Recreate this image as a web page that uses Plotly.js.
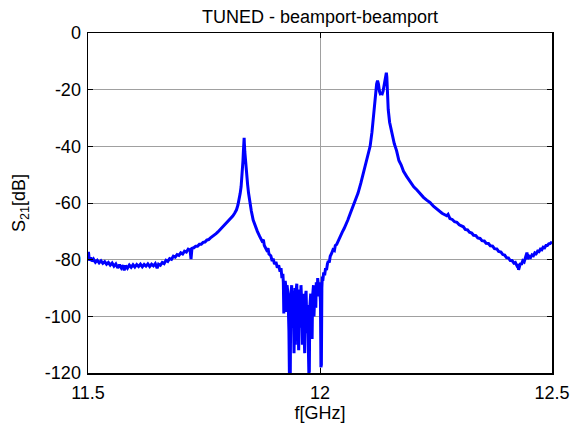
<!DOCTYPE html>
<html>
<head>
<meta charset="utf-8">
<script src="https://cdn.plot.ly/plotly-3.0.1.min.js"></script>
<style>html,body{margin:0;padding:0;background:#fff;}#chart{width:576px;height:430px;}</style>
</head>
<body>
<div id="chart"></div>
<script>
// Frequency [GHz]
const freq = [
11.500,11.501,11.503,11.506,11.509,11.512,11.516,11.520,11.524,11.528,11.532,11.536,11.540,11.544,11.548,11.552,11.556,11.560,11.564,11.568,
11.572,11.576,11.578,11.581,11.585,11.589,11.593,11.597,11.601,11.605,11.609,11.613,11.617,11.621,11.625,11.629,11.633,11.637,11.641,11.645,
11.649,11.652,11.656,11.660,11.664,11.668,11.672,11.676,11.680,11.684,11.688,11.692,11.696,11.700,11.704,11.708,11.712,11.716,11.720,11.722,
11.724,11.728,11.732,11.736,11.740,11.744,11.748,11.752,11.756,11.760,11.764,11.768,11.772,11.776,11.780,11.784,11.788,11.792,11.796,11.800,
11.804,11.808,11.812,11.816,11.820,11.823,11.826,11.828,11.830,11.832,11.833,11.834,11.835,11.836,11.8365,11.837,11.838,11.839,11.840,11.842,
11.844,11.846,11.849,11.852,11.856,11.860,11.865,11.870,11.875,11.878,11.880,11.885,11.888,11.890,11.894,11.897,11.899,11.902,11.905,11.908,
11.911,11.914,11.916,11.918,11.920,11.921,11.922,11.923,11.925,11.927,11.928,11.929,11.931,11.933,11.934,11.935,11.936,11.937,11.939,11.940,
11.941,11.942,11.944,11.945,11.946,11.947,11.948,11.950,11.951,11.952,11.954,11.955,11.956,11.958,11.959,11.961,11.962,11.963,11.965,11.967,
11.968,11.970,11.972,11.973,11.975,11.976,11.977,11.978,11.980,11.981,11.983,11.984,11.986,11.987,11.989,11.991,11.992,11.994,11.995,11.997,
11.999,12.001,12.002,12.003,12.004,12.005,12.006,12.008,12.010,12.012,12.014,12.016,12.018,12.020,12.022,12.025,12.028,12.031,12.033,12.036,
12.040,12.044,12.048,12.052,12.056,12.060,12.065,12.070,12.076,12.082,12.088,12.093,12.098,12.103,12.108,12.112,12.115,12.118,12.120,12.122,
12.124,12.126,12.128,12.130,12.132,12.134,12.136,12.138,12.140,12.142,12.143,12.144,12.145,12.147,12.150,12.153,12.156,12.160,12.165,12.170,
12.175,12.180,12.187,12.195,12.202,12.209,12.216,12.223,12.230,12.237,12.245,12.255,12.263,12.273,12.276,12.280,12.285,12.290,12.295,12.300,
12.305,12.309,12.313,12.318,12.322,12.327,12.331,12.336,12.340,12.345,12.349,12.354,12.358,12.363,12.367,12.372,12.376,12.381,12.385,12.390,
12.394,12.398,12.402,12.406,12.410,12.414,12.418,12.421,12.424,12.426,12.428,12.430,12.432,12.434,12.437,12.440,12.443,12.446,12.448,12.451,
12.454,12.457,12.460,12.463,12.466,12.469,12.472,12.475,12.478,12.481,12.484,12.487,12.490,12.493,12.496,12.500
];
// S21 [dB]
const s21 = [
-79.0,-77.3,-80.3,-79.2,-80.6,-79.8,-80.9,-80.2,-81.1,-80.4,-81.3,-80.7,-81.6,-81.0,-81.9,-81.2,-82.3,-81.5,-82.9,-81.8,
-83.0,-82.0,-83.8,-82.1,-83.0,-81.9,-82.7,-81.8,-82.6,-81.7,-82.4,-81.6,-82.5,-81.7,-82.3,-81.5,-82.4,-81.6,-82.2,-81.4,
-83.0,-81.6,-82.0,-81.0,-81.4,-80.2,-80.6,-79.6,-79.9,-78.8,-79.1,-78.2,-78.5,-77.6,-78.0,-77.0,-77.3,-76.3,-76.6,-79.8,
-76.0,-75.8,-75.3,-75.3,-74.6,-74.6,-73.9,-73.8,-73.1,-72.9,-72.3,-71.9,-71.3,-70.8,-70.2,-69.5,-68.9,-68.3,-67.7,-67.0,
-66.3,-65.5,-64.6,-63.6,-62.4,-60.8,-58.8,-56.6,-54.2,-50.5,-47.5,-45.0,-41.5,-38.0,-37.0,-39.0,-42.0,-44.5,-47.0,-50.0,
-53.5,-56.5,-60.0,-62.8,-66.0,-68.0,-70.0,-71.8,-73.4,-73.0,-75.0,-76.6,-76.0,-78.0,-78.6,-80.5,-79.6,-81.6,-80.8,-82.8,
-82.0,-84.2,-83.0,-86.5,-85.0,-88.0,-99.0,-89.0,-87.5,-90.5,-98.5,-89.0,-92.0,-105.0,-120.0,-110.0,-120.0,-93.0,-89.0,-104.0,
-95.0,-91.0,-113.0,-98.0,-90.0,-110.0,-92.0,-88.5,-101.0,-95.0,-112.0,-96.0,-90.5,-104.0,-89.0,-97.0,-110.0,-92.0,-100.0,-113.0,
-94.0,-91.0,-106.0,-96.0,-112.0,-120.0,-119.5,-97.0,-92.0,-103.0,-108.0,-93.0,-89.0,-100.0,-91.0,-97.0,-88.0,-93.0,-86.5,-90.0,
-88.0,-95.0,-118.0,-117.0,-90.0,-86.0,-87.5,-84.5,-85.5,-83.0,-83.7,-81.5,-80.5,-81.0,-78.8,-77.8,-76.5,-76.8,-75.0,-74.6,
-73.0,-71.6,-70.3,-69.0,-67.6,-66.0,-63.8,-61.8,-59.5,-56.5,-53.0,-49.5,-46.5,-43.2,-40.0,-35.0,-29.5,-24.0,-20.5,-18.0,
-16.8,-18.0,-20.5,-21.5,-21.4,-21.5,-20.5,-18.5,-16.0,-14.2,-14.0,-15.5,-20.0,-27.0,-31.5,-34.0,-36.5,-39.0,-41.5,-45.0,
-46.6,-48.8,-50.7,-52.8,-54.3,-55.4,-56.8,-58.0,-59.0,-59.8,-61.2,-62.5,-63.6,-64.5,-64.0,-65.5,-65.8,-66.6,-66.8,-67.7,
-68.0,-68.4,-69.3,-69.5,-70.3,-70.6,-71.4,-71.5,-72.3,-72.5,-73.3,-73.4,-74.2,-74.3,-75.1,-75.2,-76.1,-76.2,-77.1,-77.3,
-78.2,-78.4,-79.3,-79.4,-80.3,-80.3,-81.2,-81.0,-82.0,-81.6,-83.6,-82.0,-81.2,-81.8,-80.4,-80.8,-79.5,-77.5,-79.8,-78.8,
-79.2,-78.3,-78.6,-77.6,-77.9,-77.0,-77.2,-76.3,-76.5,-75.6,-75.8,-75.0,-75.0,-74.4,-74.3,-73.7
];
const xTickVals = [11.5, 12, 12.5];
const xTickText = ["11.5", "12", "12.5"];
const yTickVals = [-120, -100, -80, -60, -40, -20, 0];
const yTickText = ["-120", "-100", "-80", "-60", "-40", "-20", "0"];

const FONT = "Liberation Sans, Arial, sans-serif";
const axisCommon = {
  showline: true, linecolor: "#000", linewidth: 1.5, mirror: "ticks",
  ticks: "inside", ticklen: 5, tickwidth: 1, tickcolor: "#000",
  showgrid: true, gridcolor: "#a0a0a0", gridwidth: 1, zeroline: false,
  tickfont: {family: FONT, size: 18, color: "#000"}
};
const trace = {
  x: freq, y: s21, type: "scatter", mode: "lines",
  line: {color: "#0000ff", width: 3}, hoverinfo: "skip"
};
const layout = {
  width: 576, height: 430,
  paper_bgcolor: "#fff", plot_bgcolor: "#fff",
  margin: {l: 88, r: 24, t: 33, b: 57, pad: 0},
  showlegend: false,
  font: {family: FONT, color: "#000"},
  title: {text: "TUNED - beamport-beamport", font: {family: FONT, size: 18, color: "#000"},
          xref: "paper", x: 0.5, xanchor: "center", yref: "container", y: 1 - 17/430, yanchor: "middle"},
  xaxis: Object.assign({}, axisCommon, {
    range: [11.5, 12.5], tickmode: "array", tickvals: xTickVals, ticktext: xTickText,
    ticklabelstandoff: 3,
    title: {text: "f[GHz]", font: {family: FONT, size: 18, color: "#000"}, standoff: 4}
  }),
  yaxis: Object.assign({}, axisCommon, {
    range: [-120, 0], tickmode: "array", tickvals: yTickVals, ticktext: yTickText,
    ticklabelstandoff: 2,
    title: {text: "S<sub>21</sub>[dB]", font: {family: FONT, size: 18, color: "#000"}, standoff: 14}
  })
};
Plotly.newPlot("chart", [trace], layout, {staticPlot: true, displayModeBar: false});
</script>
</body>
</html>
